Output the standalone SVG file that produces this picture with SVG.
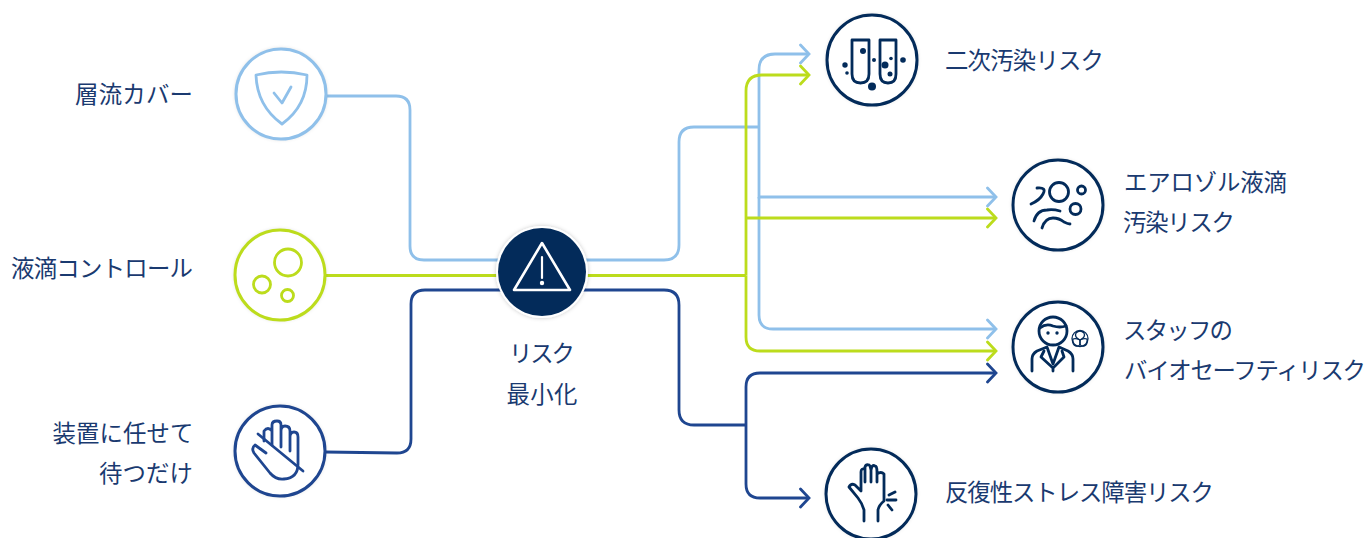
<svg xmlns="http://www.w3.org/2000/svg" width="1368" height="538" viewBox="0 0 1368 538">
<defs>
<filter id="sh" x="-20%" y="-20%" width="140%" height="140%"><feDropShadow dx="0" dy="0" stdDeviation="2" flood-color="#000" flood-opacity="0.22"/></filter>
<marker id="aL" viewBox="0 0 12 22" refX="10.500" refY="11" markerWidth="12" markerHeight="22" markerUnits="userSpaceOnUse" orient="auto"><path d="M2 2L10.500 11L2 20" fill="none" stroke="#8fc0ea" stroke-width="2.800" stroke-linecap="round"/></marker>
<marker id="aG" viewBox="0 0 12 22" refX="10.500" refY="11" markerWidth="12" markerHeight="22" markerUnits="userSpaceOnUse" orient="auto"><path d="M2 2L10.500 11L2 20" fill="none" stroke="#bcdc1c" stroke-width="2.800" stroke-linecap="round"/></marker>
<marker id="aD" viewBox="0 0 12 22" refX="10.500" refY="11" markerWidth="12" markerHeight="22" markerUnits="userSpaceOnUse" orient="auto"><path d="M2 2L10.500 11L2 20" fill="none" stroke="#1f4690" stroke-width="2.800" stroke-linecap="round"/></marker>
</defs>
<style>
text{font-family:"Noto Sans CJK JP","Noto Sans",sans-serif;font-size:23.4px;fill:#1a3a70}
.c{fill:#fff;filter:url(#sh)}
.l,.g,.d,.n{fill:none;stroke-linecap:round;stroke-linejoin:round}
.l{stroke:#8fc0ea}.g{stroke:#bcdc1c}.d{stroke:#1f4690}.n{stroke:#032b5a}
.w3{stroke-width:3}.w2{stroke-width:2.800}
.f{fill:#032b5a;stroke:none}
</style>
<g id="connectors" fill="none" stroke-width="2.800">
<path stroke="#8fc0ea" d="M325 96H396Q410 96 410 110V246Q410 260 424 260H664Q679 260 679 245V142Q679 127 694 127H759"/>
<path stroke="#8fc0ea" marker-end="url(#aL)" d="M759 127V70Q759 54 775 54H809"/>
<path stroke="#8fc0ea" marker-end="url(#aL)" d="M759 127V197H996"/>
<path stroke="#8fc0ea" marker-end="url(#aL)" d="M759 197V315Q759 329 773 329H996"/>
<path stroke="#bcdc1c" d="M325 275.500H746"/>
<path stroke="#bcdc1c" marker-end="url(#aG)" d="M746 275.500V91Q746 75 762 75H809"/>
<path stroke="#bcdc1c" marker-end="url(#aG)" d="M746 218H996"/>
<path stroke="#bcdc1c" marker-end="url(#aG)" d="M746 275.500V337Q746 351 760 351H996"/>
<path stroke="#1f4690" d="M325 452L397 453Q411 453 411 439V304Q411 290 425 290H664Q679 290 679 305V410Q679 425 694 425H746"/>
<path stroke="#1f4690" marker-end="url(#aD)" d="M746 425V387Q746 373 760 373H996"/>
<path stroke="#1f4690" marker-end="url(#aD)" d="M746 425V484Q746 498 760 498H809"/>
</g>
<g id="node-shield">
<circle class="c" cx="281" cy="94" r="45"/><circle class="l w3" cx="281" cy="94" r="45"/>
<path class="l w2" d="M256 75Q281 69 307 75Q307 106 282 124Q257 106 256 75Z"/>
<path class="l w2" d="M274 93L282 103L291 87"/>
<text x="193" y="103" text-anchor="end" textLength="118">層流カバー</text>
</g>
<g id="node-droplet">
<circle class="c" cx="280" cy="275" r="45"/><circle class="g w3" cx="280" cy="275" r="45"/>
<circle class="g w2" cx="288" cy="262.500" r="13.500"/><circle class="g w2" cx="262" cy="284.500" r="8.500"/><circle class="g w2" cx="287.500" cy="295.500" r="6"/>
<text x="193" y="277" text-anchor="end" textLength="182">液滴コントロール</text>
</g>
<g id="node-hand">
<circle class="c" cx="280" cy="451" r="45"/><circle class="d w3" cx="280" cy="451" r="45"/>
<path class="d w2" d="M266 453L255 445Q251 448 254 453L270 473Q276 480 284 479Q298 478 298 464V437Q298 432 294 432Q290 432 290 437V451M290 437V431Q290 426 285 426Q281 426 281 431V447M281 431V425Q281 421 277 421Q272 421 272 425V445M272 431Q268 426 264 431V441"/>
<path class="d w2" d="M258 434L303 471"/>
<text x="193.500" y="442" text-anchor="end" textLength="141">装置に任せて</text>
<text x="193" y="482" text-anchor="end" textLength="94">待つだけ</text>
</g>
<g id="node-center">
<circle cx="542" cy="272" r="46" fill="#fff" filter="url(#sh)"/><circle cx="542" cy="272" r="44" fill="#032b5a"/>
<path d="M542 243L570 290H514Z" fill="none" stroke="#fff" stroke-width="2.600" stroke-linejoin="round"/>
<path d="M542 257V278" stroke="#fff" stroke-width="2.200" stroke-linecap="round"/><circle cx="542" cy="283" r="2.200" fill="#fff"/>
<text x="542" y="362" text-anchor="middle" textLength="66">リスク</text>
<text x="542" y="403" text-anchor="middle" textLength="71">最小化</text>
</g>
<g id="node-tubes">
<circle class="c" cx="872" cy="60" r="45"/><circle class="n w3" cx="872" cy="60" r="45"/>
<path class="n w2" d="M852 40H869V74Q869 83 860.500 83Q852 83 852 74ZM880 40H896V74Q896 83 888 83Q880 83 880 74Z"/>
<circle class="f" cx="863" cy="51" r="3"/><circle class="f" cx="845" cy="65" r="2.700"/><circle class="f" cx="847" cy="73" r="1.800"/><circle class="f" cx="874" cy="60" r="2"/><circle class="f" cx="885" cy="65" r="3.500"/><circle class="f" cx="891" cy="58.500" r="1.800"/><circle class="f" cx="903" cy="60" r="2.800"/><circle class="f" cx="890" cy="74" r="2.500"/><circle class="f" cx="872" cy="86.500" r="4"/>
<text x="945" y="69" textLength="159">二次汚染リスク</text>
</g>
<g id="node-aerosol">
<circle class="c" cx="1058" cy="205" r="45"/><circle class="n w3" cx="1058" cy="205" r="45"/>
<circle class="n w2" cx="1059" cy="192" r="9.500"/><circle class="n w2" cx="1081.500" cy="190" r="4"/><circle class="n w2" cx="1075.500" cy="209" r="5.500"/>
<path class="n w2" d="M1037 188Q1047 187 1043 194Q1040 200 1031 204"/>
<path class="n w2" d="M1034 221Q1037 210 1047 210Q1053 209 1060 211"/>
<path class="n w2" d="M1042 228Q1045 218 1053 218Q1059 218 1064 222Q1068 224 1070 224"/>
<text x="1124" y="191" textLength="163">エアロゾル液滴</text>
<text x="1123" y="231" textLength="112">汚染リスク</text>
</g>
<g id="node-staff">
<circle class="c" cx="1058" cy="347" r="45"/><circle class="n w3" cx="1058" cy="347" r="45"/>
<circle class="n w2" cx="1053" cy="331" r="14"/><path class="n w2" d="M1040 328Q1046 323 1053 326Q1060 328 1066 326"/>
<circle class="f" cx="1048" cy="333" r="1.700"/><circle class="f" cx="1057" cy="333" r="1.700"/>
<path class="n w2" d="M1032 371V359Q1032 354 1037 351L1047 347L1053 364L1059 347L1068 351Q1073 354 1073 359V371"/>
<path class="n w2" d="M1044 351L1041 357L1053 368L1064 357L1062 351M1053 368V371"/>
<g class="n" stroke-width="1.300"><path d="M1076 333Q1080 329 1084 333Q1086 337 1080 340Q1074 337 1076 333Z"/><path d="M1073 339Q1072 345 1076 346Q1081 347 1080 340Q1076 338 1073 339Z"/><path d="M1087 339Q1088 345 1084 346Q1079 347 1080 340Q1084 338 1087 339Z"/><circle cx="1080" cy="338.500" r="8"/></g>
<text x="1123" y="339" textLength="110">スタッフの</text>
<text x="1124" y="379" textLength="242">バイオセーフティリスク</text>
</g>
<g id="node-hand2">
<circle class="c" cx="871" cy="494" r="45"/><circle class="n w3" cx="871" cy="494" r="45"/>
<path class="n w2" d="M864 521V510Q862 503 858 498L849 487Q851 483 855 485L861 491V472Q861 468 865 469V482M865 469V467Q866 464 869 465Q870 465 871 470V482M871 470Q872 464 875 466Q877 466 877 472V482M877 474Q881 471 884 474V501Q879 505 878 510V521"/>
<path class="n w2" d="M889 495L895 492M887 500H896M888 505L892 510"/>
<text x="945" y="501" textLength="269">反復性ストレス障害リスク</text>
</g>
</svg>
